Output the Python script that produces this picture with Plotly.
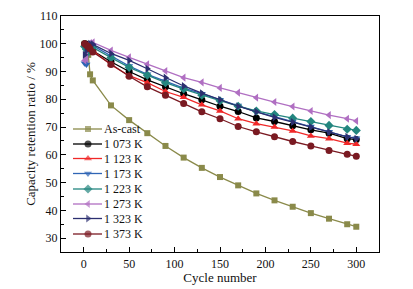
import plotly.graph_objects as go

cycles = [1, 3, 5, 7, 10, 30, 50, 70, 90, 110, 130, 150, 170, 190, 210, 230, 250, 270, 290, 300]

labels = ["As-cast", "1 073 K", "1 123 K", "1 173 K", "1 223 K", "1 273 K", "1 323 K", "1 373 K"]

as_cast = [100, 99, 96, 89, 86.8, 77.8, 72.5, 67.8, 63.2, 59.0, 55.3, 52.0, 49.0, 46.1, 43.6, 41.3, 39.0, 37.0, 35.0, 34.1]
k1073 = [100, 99.8, 99.3, 98.5, 97.5, 93.5, 90.0, 87.0, 84.5, 82.0, 79.8, 77.5, 75.6, 73.3, 72.0, 70.5, 69.0, 67.8, 65.8, 65.5]
k1123 = [100, 99.8, 99.2, 98.5, 97.5, 92.5, 88.5, 86.0, 82.8, 80.7, 78.0, 75.8, 73.0, 71.2, 70.0, 68.6, 66.8, 65.8, 64.2, 63.8]
k1173 = [93.0, 92.5, 97.0, 99.5, 99.3, 95.5, 92.0, 89.0, 86.5, 84.0, 82.0, 79.8, 77.8, 75.5, 73.8, 72.0, 70.2, 68.3, 66.5, 66.0]
k1223 = [99.0, 98.0, 97.0, 98.5, 98.7, 95.0, 91.5, 88.7, 86.0, 83.7, 81.5, 79.5, 77.5, 75.8, 74.5, 73.2, 72.0, 70.6, 69.2, 68.8]
k1273 = [94.0, 94.5, 99.0, 100.3, 100.5, 97.6, 95.1, 92.6, 90.2, 87.8, 86.1, 84.1, 82.4, 80.6, 79.0, 77.4, 75.8, 74.3, 73.0, 72.2]
k1323 = [96.0, 97.5, 99.5, 100.0, 99.8, 96.5, 94.0, 91.0, 87.8, 84.8, 82.2, 79.8, 77.5, 75.5, 73.5, 71.8, 70.0, 68.2, 66.5, 65.8]
k1373 = [100, 99.5, 99.0, 98.2, 97.0, 92.5, 88.3, 84.5, 81.5, 78.5, 75.5, 73.0, 70.2, 68.3, 66.5, 64.8, 63.2, 61.6, 60.2, 59.5]

series = [as_cast, k1073, k1123, k1173, k1223, k1273, k1323, k1373]
colors = ["#8a8a4a", "#000000", "#f02828", "#2f65b5", "#23867f", "#b06fc2", "#2c2f70", "#7a1a22"]
symbols = ["square", "circle", "triangle-up", "triangle-down", "diamond", "triangle-left", "triangle-right", "circle"]
sizes = [6, 7, 7, 7, 7, 7, 7, 7]

FONT = "Liberation Serif"
L, R, T, B = 61, 379, 16, 252

fig = go.Figure()
for name, vals, c, s, sz in zip(labels, series, colors, symbols, sizes):
    fig.add_trace(go.Scatter(x=cycles, y=vals, name=name, mode="lines+markers",
                             line=dict(color=c, width=1.3),
                             marker=dict(color=c, symbol=s, size=sz, line=dict(width=0)),
                             showlegend=False))

# custom legend drawn on a pixel-coordinate overlay axis
leg_y = [129, 144, 158.5, 173.5, 189, 204, 218.5, 234]
for name, c, s, sz, yy in zip(labels, colors, symbols, sizes, leg_y):
    fig.add_trace(go.Scatter(x=[73, 88, 102], y=[yy, yy, yy], mode="lines+markers",
                             line=dict(color=c, width=1.3),
                             marker=dict(color=c, symbol=s, size=[0, sz, 0], line=dict(width=0)),
                             xaxis="x2", yaxis="y2", showlegend=False, hoverinfo="skip"))
    fig.add_annotation(x=102, y=yy, xref="x2", yref="y2", text=name, showarrow=False,
                       xanchor="left", yanchor="middle",
                       font=dict(family=FONT, size=12, color="#111"))

axis_common = dict(showline=True, linecolor="black", linewidth=1.2, mirror=True,
                   ticks="inside", ticklen=5, tickwidth=1, tickcolor="black",
                   showgrid=False, zeroline=False, automargin=False,
                   tickfont=dict(family=FONT, size=12, color="#111"))

fig.update_layout(
    width=413, height=289,
    margin=dict(l=L, r=413 - R, t=T, b=289 - B),
    paper_bgcolor="white", plot_bgcolor="white",
    xaxis=dict(range=[-25, 325], tickvals=[0, 50, 100, 150, 200, 250, 300],
               minor=dict(tickvals=[25, 75, 125, 175, 225, 275], ticks="inside", ticklen=3, tickcolor="black"),
               title=dict(text="Cycle number", font=dict(family=FONT, size=13, color="#111"), standoff=0),
               **axis_common),
    yaxis=dict(range=[25, 110], tickvals=[30, 40, 50, 60, 70, 80, 90, 100, 110],
               minor=dict(tickvals=[35, 45, 55, 65, 75, 85, 95, 105], ticks="inside", ticklen=3, tickcolor="black"),
               title=dict(text="Capacity retention ratio / %", font=dict(family=FONT, size=13, color="#111"), standoff=0),
               **axis_common),
    xaxis2=dict(range=[L, R], domain=[0, 1], overlaying="x", visible=False, fixedrange=True),
    yaxis2=dict(range=[B, T], domain=[0, 1], overlaying="y", visible=False, fixedrange=True),
    showlegend=False,
)

fig.write_html("out.html", config={"displayModeBar": False},
               post_script="document.body.style.margin='0';document.body.style.overflow='hidden';")
